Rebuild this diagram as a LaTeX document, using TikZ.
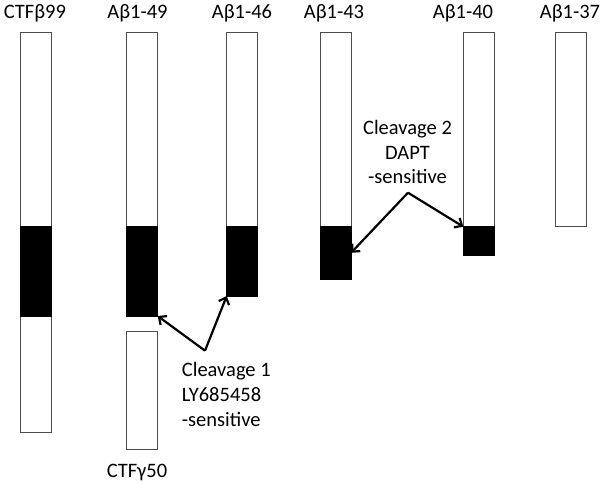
\documentclass[tikz,border=0pt]{standalone}
\usepackage{fontspec}
\setmainfont{Carlito}
\usetikzlibrary{arrows.meta}
\begin{document}
\begin{tikzpicture}[x=1pt,y=-1pt,
  bar/.style={draw=black!70, line width=1pt, fill=white, inner sep=0pt, outer sep=0pt, anchor=north west, minimum width=31pt},
  blk/.style={draw=black, fill=black, line width=1pt, inner sep=0pt, outer sep=0pt, anchor=north west, minimum width=31pt},
  lbl/.style={font=\fontsize{20.5}{25}\selectfont, inner sep=0pt, anchor=base},
  lbll/.style={lbl, anchor=base west},
  arr/.style={line width=2.2pt, -{Straight Barb[length=6pt,width=11pt]}}]
\useasboundingbox (0,0) rectangle (605,484);
% bars
\node[bar, minimum height=399.7pt] (c99) at (20,33) {};
\node[blk, minimum height=89.3pt] (c99b) at (20,226.7) {};
\node[bar, minimum height=283.3pt] (a49) at (126.7,33) {};
\node[blk, minimum height=89.3pt] (a49b) at (126.7,226.7) {};
\node[bar, minimum height=263pt] (a46) at (226.7,33) {};
\node[blk, minimum height=69.3pt] (a46b) at (226.7,226.7) {};
\node[bar, minimum height=246pt] (a43) at (320,33) {};
\node[blk, minimum height=52.3pt] (a43b) at (320,226.7) {};
\node[bar, minimum height=222.7pt] (a40) at (463.3,33) {};
\node[blk, minimum height=29pt] (a40b) at (463.3,226.7) {};
\node[bar, minimum height=193.7pt] (a37) at (555,33) {};
\node[bar, minimum height=117.6pt] (g50) at (126.7,331.7) {};
% labels
\node[lbl] (t99) at (35,19) {CTFβ99};
\node[lbl] (t49) at (137.5,19) {Aβ1-49};
\node[lbl] (t46) at (242,19) {Aβ1-46};
\node[lbl] (t43) at (334,19) {Aβ1-43};
\node[lbl] (t40) at (463,19) {Aβ1-40};
\node[lbl] (t37) at (570,19) {Aβ1-37};
\node[lbl] (t50) at (137,477) {CTFγ50};
% cleavage 2
\node[lbl] (c2a) at (407.5,134.3) {Cleavage 2};
\node[lbl] (c2b) at (407.5,159.5) {DAPT};
\node[lbl] (c2c) at (407.5,183.5) {-sensitive};
% cleavage 1
\node[lbll] (c1a) at (181.7,376.7) {Cleavage 1};
\node[lbll] (c1b) at (181.7,401.5) {LY685458};
\node[lbll] (c1c) at (181.7,426) {-sensitive};
% arrows
\coordinate (p1) at (205,350.7);
\coordinate (p2) at (408,192.7);
\draw[arr, line join=miter] (p1) -- (a49b.south east);
\draw[arr] (p1) -- (a46b.south west);
\draw[arr] (p2) -- (a43b.east);
\draw[arr] (p2) -- (a40b.north west);
\end{tikzpicture}
\end{document}
